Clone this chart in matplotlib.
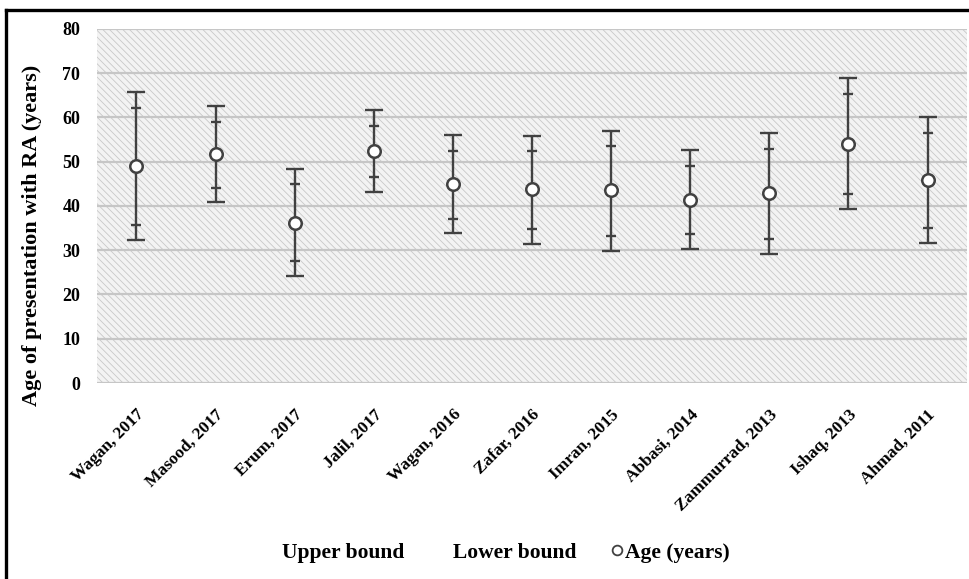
import numpy as np
import matplotlib
matplotlib.use('Agg')
import matplotlib.pyplot as plt
from matplotlib.lines import Line2D

studies = ['Wagan, 2017', 'Masood, 2017', 'Erum, 2017', 'Jalil, 2017', 'Wagan, 2016',
           'Zafar, 2016', 'Imran, 2015', 'Abbasi, 2014', 'Zammurrad, 2013', 'Ishaq, 2013',
           'Ahmad, 2011']
age = [49.1, 51.8, 36.2, 52.4, 45.0, 43.8, 43.5, 41.4, 42.9, 54.1, 45.9]
upper_bound = [62.2, 59.0, 44.9, 58.1, 52.5, 52.4, 53.6, 49.1, 52.9, 65.4, 56.6]
lower_bound = [35.6, 44.1, 27.5, 46.6, 37.1, 34.7, 33.3, 33.6, 32.5, 42.6, 35.0]
range_max = [65.7, 62.6, 48.4, 61.7, 56.0, 55.9, 56.9, 52.7, 56.5, 68.9, 60.1]
range_min = [32.3, 40.8, 24.2, 43.2, 33.8, 31.4, 29.9, 30.3, 29.1, 39.3, 31.7]
y_ticks = [0, 10, 20, 30, 40, 50, 60, 70, 80]

plt.rcParams['font.family'] = ['Liberation Serif', 'DejaVu Serif']
plt.rcParams['font.weight'] = 'bold'
plt.rcParams['hatch.color'] = '#c8c8c8'
plt.rcParams['hatch.linewidth'] = 0.6

fig = plt.figure(figsize=(9.69, 5.79), dpi=100)
ax = fig.add_axes([0.100, 0.3385, 0.898, 0.6115])

x = np.arange(len(studies))
age = np.array(age)
dark = '#414141'

# hatched plot background
ax.axvspan(-0.5, len(studies) - 0.5, facecolor='#f3f3f3', hatch='\\' * 5,
           edgecolor='#c8c8c8', linewidth=0, zorder=0)
for t in y_ticks:
    ax.axhline(t, color='#c6c6c6', lw=1.6, zorder=1)

ax.errorbar(x, age, yerr=[age - np.array(range_min), np.array(range_max) - age],
            fmt='none', ecolor=dark, elinewidth=1.7, capsize=6.5, capthick=1.7, zorder=3)
ax.plot(x, upper_bound, ls='none', marker='_', ms=7.5, mew=1.7, color=dark, zorder=3)
ax.plot(x, lower_bound, ls='none', marker='_', ms=7.5, mew=1.7, color=dark, zorder=3)
ax.plot(x, age, ls='none', marker='o', ms=9, mfc='white', mec=dark, mew=1.8, zorder=4)

ax.set_xlim(-0.5, len(studies) - 0.5)
ax.set_ylim(0, 80)
ax.set_yticks(y_ticks)
ax.set_xticks(x)
ax.set_xticklabels(studies, rotation=45, ha='right', rotation_mode='anchor', fontsize=12.5)
ax.tick_params(axis='x', length=0, pad=17)
ax.tick_params(axis='y', length=0, pad=12, labelsize=13)
for s in ax.spines.values():
    s.set_visible(False)
ax.set_ylabel('Age of presentation with RA (years)', fontsize=16, fontweight='bold')
ax.yaxis.set_label_coords(-0.063, 0.418)

handles = [Line2D([], [], ls='none', marker='none'),
           Line2D([], [], ls='none', marker='none'),
           Line2D([], [], ls='none', marker='o', ms=7, mfc='white', mec=dark, mew=1.3)]
fig.legend(handles, ['Upper bound', 'Lower bound', 'Age (years)'], loc='center',
           bbox_to_anchor=(0.514, 0.045), ncol=3, frameon=False, fontsize=15.5,
           handlelength=0.7, handletextpad=0.05, columnspacing=1.5)

# outer frame (top and left visible)
fig.add_artist(Line2D([0.0057, 0.0057], [0.0, 0.983], transform=fig.transFigure,
                      color='black', lw=2.4))
fig.add_artist(Line2D([0.0057, 1.0], [0.983, 0.983], transform=fig.transFigure,
                      color='black', lw=2.4))

fig.savefig('out.png', dpi=100)
